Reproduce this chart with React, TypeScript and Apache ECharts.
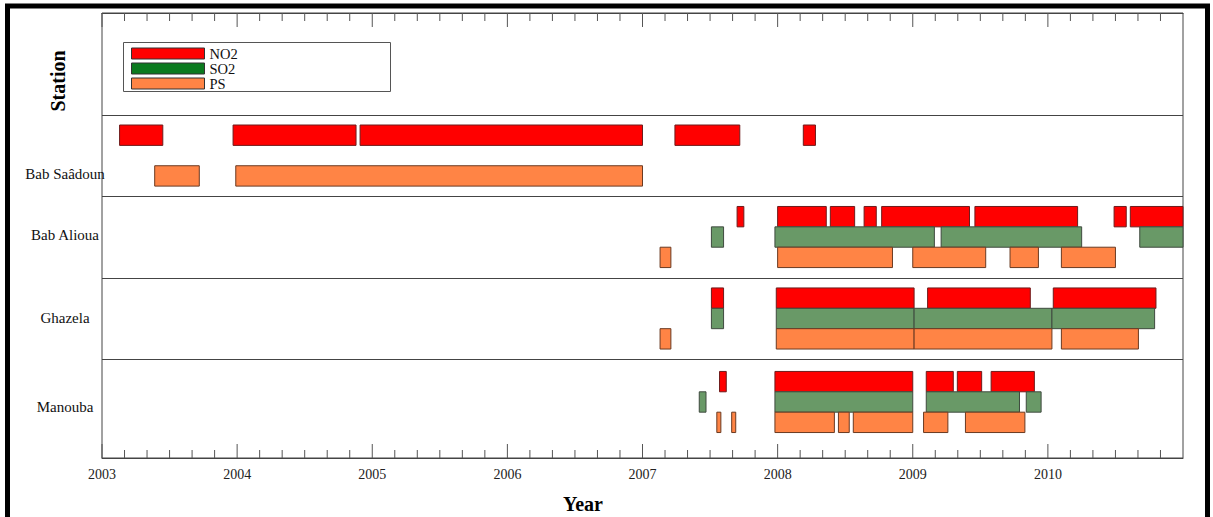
import React, { useEffect, useRef } from "react";
import * as echarts from "echarts";

// Monitoring periods per station and pollutant, as [start, end] in decimal years
const stations = ["Bab Saâdoun", "Bab Alioua", "Ghazela", "Manouba"];
const pollutants = ["NO2", "SO2", "PS"];
const yearTicks = [2003, 2004, 2005, 2006, 2007, 2008, 2009, 2010];

const babSaadounNO2 = [[2003.13, 2003.45], [2003.97, 2004.88], [2004.91, 2007.0], [2007.24, 2007.72], [2008.19, 2008.28]];
const babSaadounSO2: number[][] = [];
const babSaadounPS = [[2003.39, 2003.72], [2003.99, 2007.0]];

const babAliouaNO2 = [[2007.70, 2007.75], [2008.0, 2008.36], [2008.39, 2008.57], [2008.64, 2008.73], [2008.77, 2009.42], [2009.46, 2010.22], [2010.49, 2010.58], [2010.61, 2011.0]];
const babAliouaSO2 = [[2007.51, 2007.60], [2007.98, 2009.16], [2009.21, 2010.25], [2010.68, 2011.0]];
const babAliouaPS = [[2007.13, 2007.21], [2008.0, 2008.85], [2009.0, 2009.54], [2009.72, 2009.93], [2010.1, 2010.5]];

const ghazelaNO2 = [[2007.51, 2007.60], [2007.99, 2009.01], [2009.11, 2009.87], [2010.04, 2010.80]];
const ghazelaSO2 = [[2007.51, 2007.60], [2007.99, 2009.01], [2009.01, 2010.03], [2010.03, 2010.79]];
const ghazelaPS = [[2007.13, 2007.21], [2007.99, 2009.01], [2009.01, 2010.03], [2010.10, 2010.67]];

const manoubaNO2 = [[2007.57, 2007.62], [2007.98, 2009.0], [2009.10, 2009.30], [2009.33, 2009.51], [2009.58, 2009.90]];
const manoubaSO2 = [[2007.42, 2007.47], [2007.98, 2009.0], [2009.10, 2009.79], [2009.84, 2009.95]];
const manoubaPS = [[2007.55, 2007.58], [2007.66, 2007.69], [2007.98, 2008.42], [2008.45, 2008.53], [2008.56, 2009.0], [2009.08, 2009.26], [2009.39, 2009.83]];

// Lane layout on the vertical axis (one unit = one bar height)
const periods: Record<string, Record<string, number[][]>> = {
  "Bab Saâdoun": { NO2: babSaadounNO2, SO2: babSaadounSO2, PS: babSaadounPS },
  "Bab Alioua": { NO2: babAliouaNO2, SO2: babAliouaSO2, PS: babAliouaPS },
  Ghazela: { NO2: ghazelaNO2, SO2: ghazelaSO2, PS: ghazelaPS },
  Manouba: { NO2: manoubaNO2, SO2: manoubaSO2, PS: manoubaPS },
};
const lanes: Record<string, Record<string, number>> = {
  "Bab Saâdoun": { NO2: 6, SO2: 7, PS: 8 },
  "Bab Alioua": { NO2: 10, SO2: 11, PS: 12 },
  Ghazela: { NO2: 14, SO2: 15, PS: 16 },
  Manouba: { NO2: 18.1, SO2: 19.1, PS: 20.1 },
};
const labelLanes = [7.9, 10.9, 14.97, 19.35];
const rowSeparators = [5, 9, 13, 17];

const X_MIN = 2003;
const X_MAX = 2011;
const Y_MAX = 21.85;
const MINOR_PER_YEAR = 6; // two-month minor ticks

const barFill: Record<string, string> = { NO2: "#ff0000", SO2: "#699967", PS: "#ff8445" };
const barStroke: Record<string, string> = { NO2: "#6e1c1c", SO2: "#3f4a3f", PS: "#6a3a22" };
const legendFill: Record<string, string> = { NO2: "#ff0000", SO2: "#0b7a1f", PS: "#ff8445" };

const SERIF = "'Liberation Serif', 'Times New Roman', serif";

// Inward ticks along the top and bottom frame of the plot
const tickMarks: number[][] = [];
for (let y = X_MIN; y < X_MAX; y++) {
  for (let k = 0; k < MINOR_PER_YEAR; k++) {
    tickMarks.push([y + k / MINOR_PER_YEAR, k === 0 ? 1 : 0]);
  }
}

export default function App() {
  const ref = useRef<HTMLDivElement>(null);

  useEffect(() => {
    if (!ref.current) return;
    const chart = echarts.init(ref.current, null, { renderer: "svg" });

    const barSeries = pollutants.map((p) => ({
      name: p,
      type: "custom",
      clip: false,
      encode: { x: [0, 1], y: 2 },
      data: stations.flatMap((s) => periods[s][p].map(([a, b]) => [a, b, lanes[s][p]])),
      renderItem: (_params: any, api: any) => {
        const start = api.coord([api.value(0), api.value(2)]);
        const end = api.coord([api.value(1), api.value(2)]);
        const h = api.size([0, 1])[1];
        return {
          type: "rect",
          shape: { x: start[0], y: start[1] - h / 2, width: end[0] - start[0], height: h },
          style: { fill: barFill[p], stroke: barStroke[p], lineWidth: 1 },
        };
      },
    }));

    const makeAxis = (position: "top" | "bottom") => ({
      type: "value",
      position,
      min: X_MIN,
      max: X_MAX,
      interval: 1,
      axisLine: { show: true, onZero: false, lineStyle: { color: "#444", width: 1 } },
      axisTick: { show: false },
      minorTick: { show: false },
      splitLine: { show: false },
      minorSplitLine: { show: false },
    });

    chart.setOption({
      animation: false,
      backgroundColor: "#ffffff",
      grid: { left: 102, right: 30, top: 13, bottom: 59, show: true, borderColor: "#444", borderWidth: 1 },
      xAxis: [
        {
          ...makeAxis("bottom"),
          axisLabel: {
            show: true,
            margin: 9,
            color: "#222",
            fontFamily: SERIF,
            fontSize: 14,
            formatter: (v: number) => (yearTicks.includes(v) ? String(v) : ""),
          },
        },
        { ...makeAxis("top"), axisLabel: { show: false } },
      ],
      yAxis: {
        type: "value",
        inverse: true,
        min: 0,
        max: Y_MAX,
        show: false,
      },
      legend: {
        orient: "vertical",
        left: 131,
        top: 46,
        padding: 0,
        itemGap: 0,
        itemWidth: 73,
        itemHeight: 11,
        icon: "rect",
        selectedMode: false,
        textStyle: { fontFamily: SERIF, fontSize: 14.5, lineHeight: 13.8, color: "#111" },
        data: pollutants.map((p) => ({
          name: p,
          itemStyle: { color: legendFill[p], borderColor: "#333", borderWidth: 1 },
        })),
      },
      graphic: [
        {
          type: "rect",
          shape: { x: 123.5, y: 42.5, width: 267, height: 49 },
          style: { fill: "none", stroke: "#555", lineWidth: 1 },
          z: 10,
        },
        {
          type: "text",
          x: 58,
          y: 81,
          rotation: Math.PI / 2,
          style: {
            text: "Station",
            font: `bold 20px ${SERIF}`,
            fill: "#000",
            textAlign: "center",
            textVerticalAlign: "middle",
          },
        },
        {
          type: "text",
          x: 583,
          y: 504,
          style: {
            text: "Year",
            font: `bold 20px ${SERIF}`,
            fill: "#000",
            textAlign: "center",
            textVerticalAlign: "middle",
          },
        },
        {
          type: "rect",
          shape: { x: 7.5, y: 6, width: 1200, height: 540 },
          style: { fill: "none", stroke: "#000", lineWidth: 5 },
          z: 20,
        },
      ],
      series: [
        ...barSeries,
        {
          name: "ticks",
          type: "custom",
          clip: false,
          silent: true,
          encode: { x: 0 },
          data: tickMarks,
          renderItem: (_params: any, api: any) => {
            const v = api.value(0);
            const major = api.value(1) === 1;
            const top = api.coord([v, 0]);
            const bottom = api.coord([v, Y_MAX]);
            const style = { stroke: "#555", lineWidth: 1 };
            return {
              type: "group",
              children: [
                {
                  type: "line",
                  shape: { x1: top[0], y1: top[1], x2: top[0], y2: top[1] + (major ? 14 : 8) },
                  style,
                },
                {
                  type: "line",
                  shape: { x1: bottom[0], y1: bottom[1], x2: bottom[0], y2: bottom[1] - (major ? 14 : 8) },
                  style,
                },
              ],
            };
          },
        },
        {
          name: "rows",
          type: "custom",
          clip: false,
          silent: true,
          encode: { y: 0 },
          data: labelLanes.map((v) => [v]),
          renderItem: (params: any, api: any) => {
            const pt = api.coord([X_MIN, api.value(0)]);
            return {
              type: "text",
              x: pt[0] - 37,
              y: pt[1],
              style: {
                text: stations[params.dataIndex],
                font: `15px ${SERIF}`,
                fill: "#111",
                textAlign: "center",
                textVerticalAlign: "middle",
              },
            };
          },
          markLine: {
            silent: true,
            symbol: ["none", "none"],
            label: { show: false },
            lineStyle: { color: "#444", type: "solid", width: 1 },
            data: rowSeparators.map((v) => ({ yAxis: v })),
          },
        },
      ],
    });

    return () => chart.dispose();
  }, []);

  return (
    <div
      ref={ref}
      style={{ position: "absolute", left: 0, top: 0, width: 1213, height: 517, background: "#fff" }}
    />
  );
}
